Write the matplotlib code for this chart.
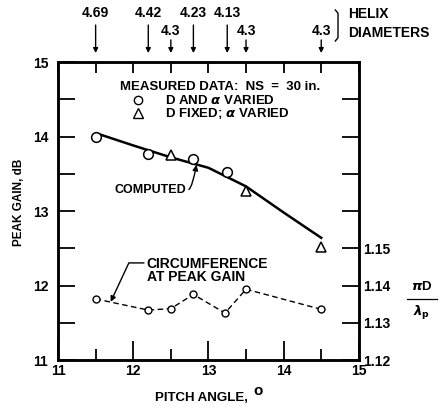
import numpy as np
import matplotlib.pyplot as plt
from matplotlib.lines import Line2D

plt.rcParams['font.family'] = ['Liberation Sans Narrow', 'Liberation Sans', 'DejaVu Sans']
plt.rcParams['font.weight'] = 'bold'
plt.rcParams['axes.labelweight'] = 'bold'
plt.rcParams['mathtext.fontset'] = 'dejavusans'

# --- data ---
circ_x = [11.5, 12.2, 12.8, 13.25]          # D and alpha varied
circ_gain = [14.0, 13.77, 13.7, 13.53]
tri_x = [12.5, 13.5, 14.5]                  # D fixed, alpha varied
tri_gain = [13.75, 13.27, 12.52]
comp_x = [11.55, 12.0, 12.5, 13.0, 13.5, 14.0, 14.5]
comp_gain = [14.03, 13.88, 13.72, 13.58, 13.33, 12.98, 12.64]
ratio_x = [11.5, 12.2, 12.5, 12.8, 13.22, 13.5, 14.5]
ratio = [1.1364, 1.1334, 1.1338, 1.1376, 1.1326, 1.1390, 1.1336]
helix_x = [11.5, 12.2, 12.5, 12.8, 13.25, 13.5, 14.5]
helix_d = ["4.69", "4.42", "4.3", "4.23", "4.13", "4.3", "4.3"]
helix_row = [0, 0, 1, 0, 0, 1, 1]   # 0 = upper row, 1 = lower row

fig = plt.figure(figsize=(4.43, 4.09), dpi=100)
ax = fig.add_axes([0.131, 0.1198, 0.679, 0.7286])
ax2 = ax.twinx()

ax.plot(comp_x, comp_gain, color='black', lw=1.8, zorder=3)
ax.plot(circ_x, circ_gain, 'o', mfc='white', mec='black', ms=7, mew=1.1, zorder=4)
ax.plot(tri_x, tri_gain, '^', mfc='white', mec='black', ms=7.5, mew=1.1, zorder=4)

ax.set_xlim(11, 15)
ax.set_ylim(11, 15)
for s in ax.spines.values():
    s.set_linewidth(1.8)

ax.set_xticks([11, 12, 13, 14, 15])
ax.set_xticks([11.5, 12.5, 13.5, 14.5], minor=True)
ax.set_yticks([11, 12, 13, 14, 15])
ax.set_yticks([11.5, 12.5, 13.5, 14.5], minor=True)
ax.tick_params(axis='x', which='major', direction='in', length=14, width=1.3,
               top=True, labelsize=10, pad=3)
ax.tick_params(axis='x', which='minor', direction='in', length=8, width=1.3, top=True)
ax.tick_params(axis='y', which='major', direction='in', length=12, width=1.3,
               labelsize=10, pad=7)
ax.tick_params(axis='y', which='minor', direction='in', length=12, width=1.3)
for t in ax.xaxis.get_major_ticks():
    t.tick2line.set_markersize(8)

ax2.set_ylim(1.12, 1.20)
ax2.plot(ratio_x, ratio, 'o--', color='black', mfc='white', mec='black',
         ms=5, mew=1.0, lw=1.0, dashes=(4, 2.5))
ax2.set_yticks([1.12 + 0.01 * k for k in range(8)])
ax2.set_yticklabels(["1.12", "1.13", "1.14", "1.15", "", "", "", ""])
ax2.tick_params(axis='y', direction='in', length=12, width=1.3, labelsize=10, pad=3)
for s in ax2.spines.values():
    s.set_linewidth(1.8)

ax.set_ylabel("PEAK GAIN, dB", fontsize=8.5)
ax.yaxis.set_label_coords(-0.11, 0.53)
fig.text(201 / 443, 1 - 398 / 409, "PITCH ANGLE,", fontsize=9.5, ha='center', va='center')
fig.text(258 / 443, 1 - 391 / 409, "o", fontsize=11, ha='center', va='center')

# legend block (drawn on ax2 so it sits on top)
ax2.text(0.54, 0.915, "MEASURED DATA:  NS  =  30 in.", transform=ax.transAxes,
         ha='center', va='center', fontsize=9.5)
ax.plot([12.06], [14.49], 'o', mfc='white', mec='black', ms=6, mew=1.0)
ax2.text(0.355, 0.872, r"D AND $\alpha$ VARIED", transform=ax.transAxes,
         ha='left', va='center', fontsize=9.5)
ax.plot([12.06], [14.31], '^', mfc='white', mec='black', ms=6.5, mew=1.0)
ax2.text(0.355, 0.828, r"D FIXED; $\alpha$ VARIED", transform=ax.transAxes,
         ha='left', va='center', fontsize=9.5)

ax.annotate("COMPUTED", xy=(12.84, 13.62), xytext=(11.75, 13.28),
            ha='left', va='center', fontsize=9,
            arrowprops=dict(arrowstyle='-|>', color='black', lw=1.0,
                            mutation_scale=8, shrinkA=0, shrinkB=0,
                            connectionstyle="angle3,angleA=-30,angleB=80",
                            relpos=(1.0, 0.5)))

ax.annotate("CIRCUMFERENCE\nAT PEAK GAIN", xy=(11.7, 11.78), xytext=(12.18, 12.2),
            ha='left', va='center', fontsize=10, linespacing=0.95,
            arrowprops=dict(arrowstyle='-|>', color='black', lw=1.0,
                            mutation_scale=8, shrinkA=0, shrinkB=0,
                            connectionstyle="angle,angleA=0,angleB=65,rad=0",
                            relpos=(0.0, 0.78)))

# top helix diameter arrows
trans = ax.get_xaxis_transform()
for x, lab, row in zip(helix_x, helix_d, helix_row):
    y0 = 1.124 if row == 0 else 1.074
    ylab = 1.165 if row == 0 else 1.105
    ax.annotate("", xy=(x, 1.03), xytext=(x, y0), xycoords=trans, textcoords=trans,
                annotation_clip=False,
                arrowprops=dict(arrowstyle='-|>', color='black', lw=1.0,
                                mutation_scale=7, shrinkA=0, shrinkB=0))
    ax.text(x, ylab, lab, transform=trans, ha='center', va='center', fontsize=10,
            clip_on=False)

# bracket and label
bx, b_top, b_bot = 338 / 443, 1 - 10 / 409, 1 - 41 / 409
fig.add_artist(Line2D([bx - 0.006, bx, bx, bx - 0.006],
                      [b_top, b_top - 0.008, b_bot + 0.008, b_bot],
                      transform=fig.transFigure, color='black', lw=1.0))
fig.text(0.785, 1 - 14 / 409, "HELIX", fontsize=10, va='center', ha='left')
fig.text(0.785, 1 - 33 / 409, "DIAMETERS", fontsize=10, va='center', ha='left')

# right-side axis label pi D / lambda_p
fig.text(422 / 443, 1 - 287 / 409, r"$\pi$D", fontsize=9.5, ha='center', va='center')
fig.add_artist(Line2D([407 / 443, 437 / 443], [1 - 299 / 409, 1 - 299 / 409],
                      transform=fig.transFigure, color='black', lw=0.9))
fig.text(422 / 443, 1 - 313 / 409, r"$\lambda_{\mathbf{p}}$", fontsize=9.5,
         ha='center', va='center')

fig.savefig("out.png", dpi=100)
